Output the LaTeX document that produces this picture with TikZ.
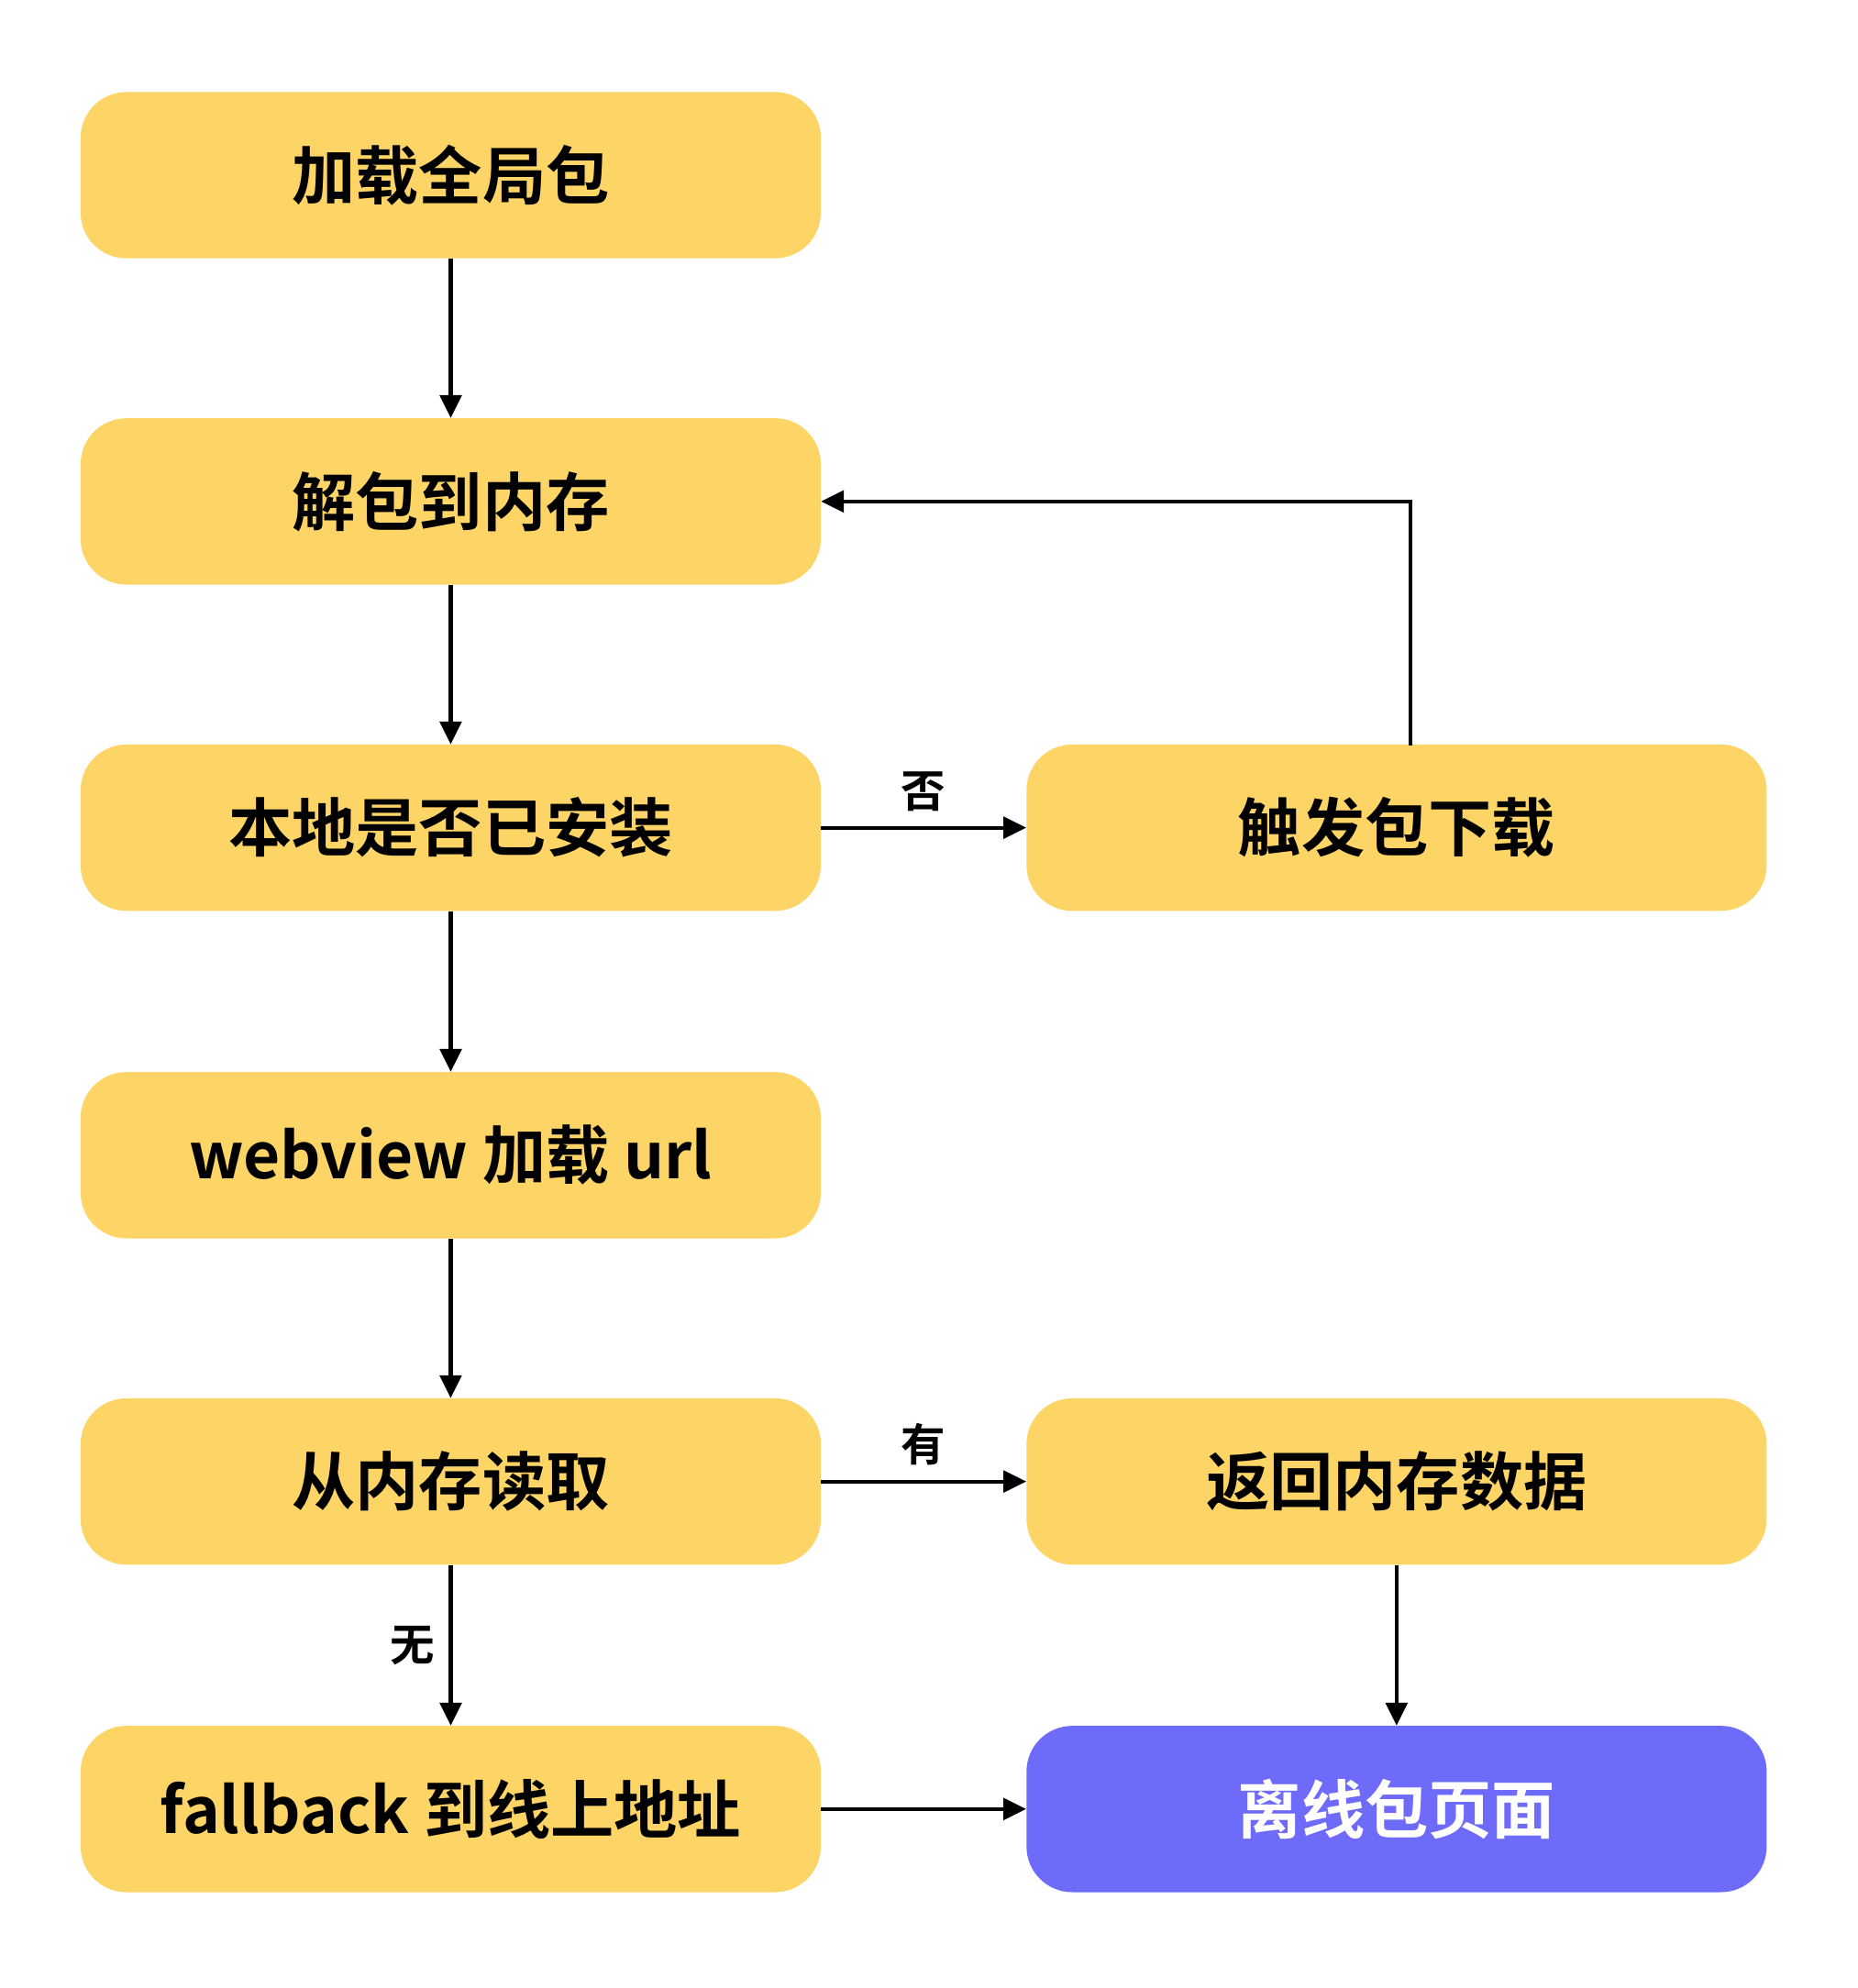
\documentclass[tikz,border=0pt]{standalone}
\usepackage{fontspec}
\setmainfont{Noto Sans CJK SC Bold}
\usetikzlibrary{arrows.meta}
\definecolor{boxy}{HTML}{FDD466}
\definecolor{boxp}{HTML}{6E6AFA}
\begin{document}
\begin{tikzpicture}[x=1pt,y=-1pt,
  box/.style={fill=boxy,rounded corners=36pt,minimum width=583pt,minimum height=131pt,inner sep=0pt,font=\fontsize{50}{60}\selectfont},
  conn/.style={line width=3pt,-{Triangle[length=18pt,width=17pt]}},
  lab/.style={font=\fontsize{35}{42}\selectfont}]
\useasboundingbox (0,0) rectangle (1463,1566);
\node[box] (a) at (355,138) {加载全局包};
\node[box] (b) at (355,395) {解包到内存};
\node[box] (c) at (355,652) {本地是否已安装};
\node[box] (d) at (355,910) {webview 加载 url};
\node[box] (e) at (355,1167) {从内存读取};
\node[box] (f) at (355,1425) {fallback 到线上地址};
\node[box] (g) at (1100,652) {触发包下载};
\node[box] (h) at (1100,1167) {返回内存数据};
\node[box,fill=boxp,text=white] (i) at (1100,1425) {离线包页面};
\draw[conn] (a) -- (b);
\draw[conn] (b) -- (c);
\draw[conn] (c) -- (d);
\draw[conn] (d) -- (e);
\draw[conn] (e) -- node[lab,left=8pt]{无} (f);
\draw[conn] (c) -- node[lab,above=8pt]{否} (g);
\draw[conn] (e.east) -- node[lab,above=8pt]{有} (e.east -| h.west);
\draw[conn] (f) -- (i);
\draw[conn] (h) -- (i);
\draw[conn] (1111,587) |- (b.east);
\end{tikzpicture}
\end{document}
